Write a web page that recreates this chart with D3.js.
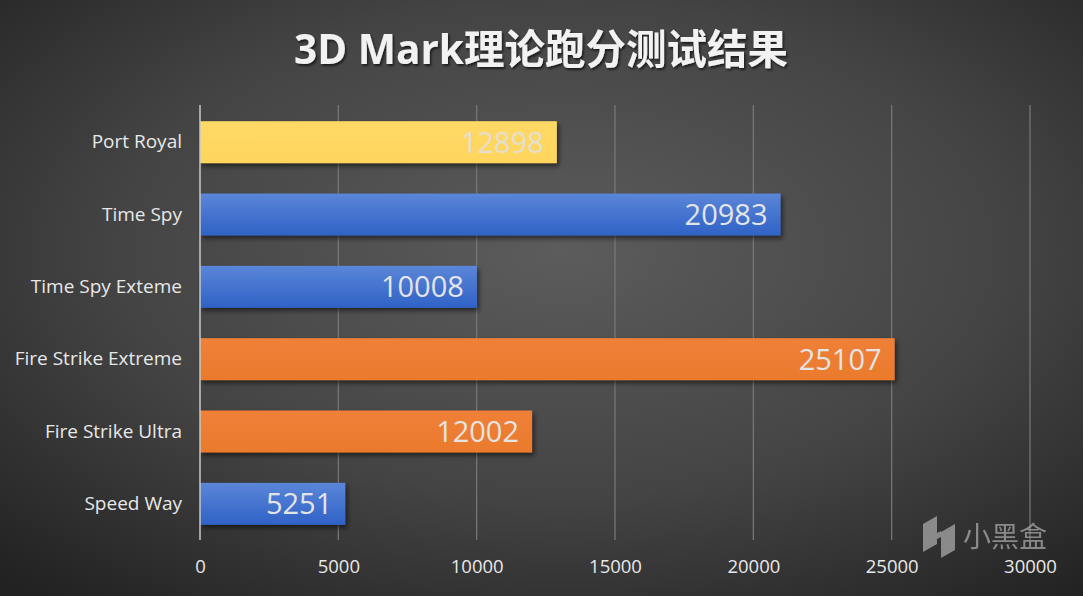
<!DOCTYPE html>
<html><head><meta charset="utf-8">
<script src="https://cdn.jsdelivr.net/npm/d3@7/dist/d3.min.js"></script>
<style>
html,body{margin:0;padding:0;background:#333;}
svg{display:block;}
</style></head>
<body>
<svg id="chart" width="1083" height="596"></svg>
<script>
const categories = ["Port Royal","Time Spy","Time Spy Exteme","Fire Strike Extreme","Fire Strike Ultra","Speed Way"];
const values = [12898, 20983, 10008, 25107, 12002, 5251];
const colorGroups = ["yellow","blue","blue","orange","orange","blue"];
const tickValues = [0,5000,10000,15000,20000,25000,30000];
const title = "3D Mark理论跑分测试结果";

const W = 1083, H = 596;
const margin = {left:200, right:53, top:106, bottom:56};
const svg = d3.select("#chart");
const defs = svg.append("defs");

const bg = defs.append("radialGradient").attr("id","bg")
  .attr("cx","0.52").attr("cy","0.42").attr("r","0.75");
bg.append("stop").attr("offset","0").attr("stop-color","#5c5c5c");
bg.append("stop").attr("offset","0.55").attr("stop-color","#444444");
bg.append("stop").attr("offset","1").attr("stop-color","#222222");

const grads = {
  yellow:["#ffd966","#ffd55c"],
  blue:["#5b86d8","#2f62c6"],
  orange:["#f08038","#ea7a2c"]
};
Object.entries(grads).forEach(([k,c])=>{
  const g = defs.append("linearGradient").attr("id","g-"+k).attr("x1",0).attr("y1",0).attr("x2",0).attr("y2",1);
  g.append("stop").attr("offset","0").attr("stop-color",c[0]);
  g.append("stop").attr("offset","1").attr("stop-color",c[1]);
});
const sh = defs.append("filter").attr("id","shadow").attr("x","-5%").attr("y","-20%").attr("width","115%").attr("height","160%");
sh.append("feDropShadow").attr("dx",2).attr("dy",3).attr("stdDeviation",2.5).attr("flood-color","#000").attr("flood-opacity",0.55);
const tsh = defs.append("filter").attr("id","tshadow");
tsh.append("feDropShadow").attr("dx",1.5).attr("dy",2).attr("stdDeviation",1.2).attr("flood-color","#000").attr("flood-opacity",0.6);

svg.append("rect").attr("width",W).attr("height",H).attr("fill","url(#bg)");

svg.append("text").attr("x",541).attr("y",64).attr("text-anchor","middle")
  .attr("font-family","'Open Sans','Noto Sans CJK SC',sans-serif").attr("font-weight","bold")
  .attr("font-size",40.5).attr("fill","#f2f2f2").attr("filter","url(#tshadow)").text(title);

const x = d3.scaleLinear().domain([0,30000]).range([margin.left, W - margin.right]);
const y = d3.scaleBand().domain(categories).range([margin.top, H - margin.bottom]).paddingInner(0.42).paddingOuter(0.21);

// gridlines
svg.append("g").selectAll("line").data(tickValues.slice(1)).join("line")
  .attr("x1",d=>x(d)).attr("x2",d=>x(d)).attr("y1",margin.top-1).attr("y2",H-margin.bottom)
  .attr("stroke","#7a7a7a").attr("stroke-width",1.2);

// bars
svg.append("g").selectAll("rect").data(values).join("rect")
  .attr("x",x(0)).attr("y",(d,i)=>y(categories[i]))
  .attr("width",d=>x(d)-x(0)).attr("height",y.bandwidth())
  .attr("fill",(d,i)=>"url(#g-"+colorGroups[i]+")").attr("filter","url(#shadow)");

// axis line
svg.append("line").attr("x1",x(0)).attr("x2",x(0)).attr("y1",margin.top-1).attr("y2",H-margin.bottom)
  .attr("stroke","#c8c8c8").attr("stroke-width",1.5);

// value labels
svg.append("g").selectAll("text").data(values).join("text")
  .attr("x",d=>x(d)-13).attr("y",(d,i)=>y(categories[i])+y.bandwidth()/2)
  .attr("dy","0.36em").attr("text-anchor","end")
  .attr("font-family","'Open Sans','Noto Sans CJK SC',sans-serif").attr("font-size",29)
  .attr("fill",(d,i)=>colorGroups[i]==="yellow" ? "#e3dfd3" : "#e4e4e4").text(d=>d);

// category axis
const yAxis = d3.axisLeft(y).tickSize(0).tickPadding(18);
const gy = svg.append("g").attr("transform",`translate(${margin.left},0)`).call(yAxis);
gy.select(".domain").remove();
gy.selectAll("text").attr("font-family","'Open Sans','Noto Sans CJK SC',sans-serif").attr("font-size",19).attr("fill","#e8e8e8");

// x axis
const xAxis = d3.axisBottom(x).tickValues(tickValues).tickSize(0).tickPadding(20).tickFormat(d3.format("d"));
const gx = svg.append("g").attr("transform",`translate(0,${H-margin.bottom})`).call(xAxis);
gx.select(".domain").remove();
gx.selectAll("text").attr("font-family","'Open Sans','Noto Sans CJK SC',sans-serif").attr("font-size",18.5).attr("fill","#e8e8e8");

// watermark
const wm = svg.append("g").attr("opacity",0.75);
wm.append("path").attr("d","M923,524 l14,-8 v28 l-14,8 z M941,532 l14,-8 v26 l-14,8 z M937,533 l4,-2 v6 l-4,2 z").attr("fill","#a8a8a8");
wm.append("text").attr("x",963).attr("y",547).attr("font-family","'Noto Sans CJK SC',sans-serif").attr("font-size",28).attr("fill","#a8a8a8").text("小黑盒");
</script>
</body></html>
